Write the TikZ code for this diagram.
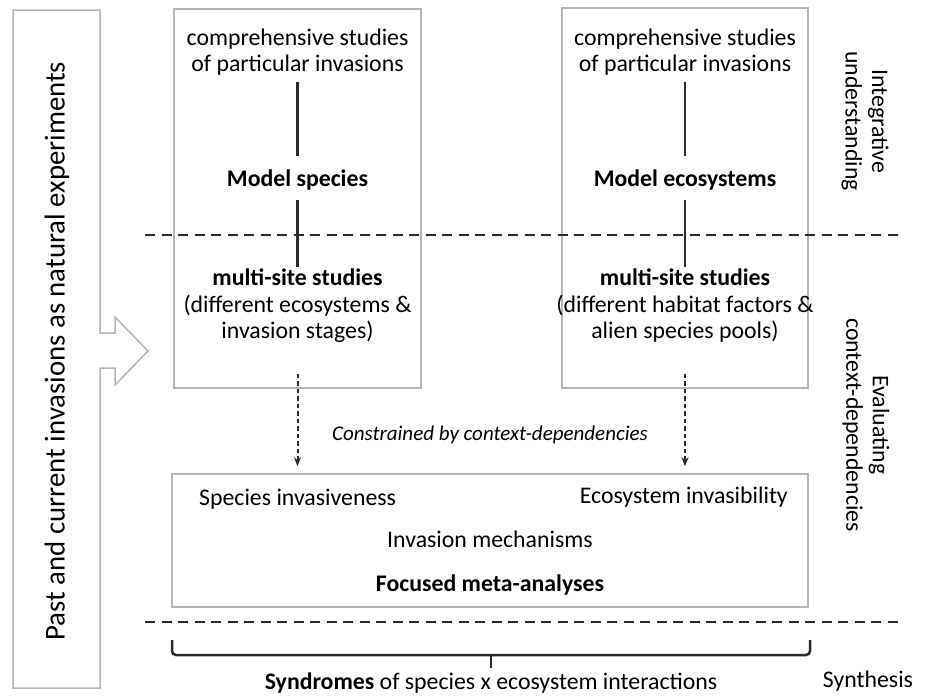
\documentclass[tikz,border=0pt]{standalone}
\usepackage{fontspec}
\setmainfont{Carlito}
\usetikzlibrary{arrows.meta, positioning}
\definecolor{BoxGray}{HTML}{B5B5B5}
\definecolor{InkDark}{HTML}{2A2A2A}

\begin{document}
\begin{tikzpicture}[x=1pt, y=-1pt, >=Stealth,
        box/.style={rectangle, draw=BoxGray, line width=1.5pt, inner sep=0pt},
        txt/.style={align=center, inner sep=0pt, font=\fontsize{23.8}{26.5}\selectfont},
        link/.style={InkDark, line width=2.5pt},
        cut/.style={InkDark, line width=2pt, dash pattern=on 10pt off 6.5pt},
        flow/.style={->, InkDark, line width=2pt, dash pattern=on 4.5pt off 3pt, >={Stealth[length=9pt, width=7pt]}}]

        \useasboundingbox (0,0) rectangle (928,696);

        % side arrow
        \draw[draw=BoxGray, line width=1.5pt, line join=miter]
            (13,10) -- (100,10) -- (100,333) -- (115,333) -- (115,317) -- (148,351)
            -- (115,385) -- (115,368) -- (100,368) -- (100,688) -- (13,688) -- cycle;
        \node[txt, rotate=90, font=\fontsize{28.8}{32}\selectfont] (natexp) at (57,351) {Past and current invasions as natural experiments};

        % boxes
        \node[box, minimum width=247pt, minimum height=379pt] (spbox) at (297.5,198.5) {};
        \node[box, minimum width=246pt, minimum height=380pt] (ecobox) at (685,198) {};
        \node[box, minimum width=636pt, minimum height=133pt] (metabox) at (490,540.5) {};

        % left column
        \node[txt] (compsp) at (297.5,52) {comprehensive studies\\of particular invasions};
        \node[txt, font=\fontsize{23.8}{26.5}\selectfont\bfseries] (modsp) at (297.5,180) {Model species};
        \node[txt] (multisp) at (297.5,306) {\textbf{multi-site studies}\\(different ecosystems \&\\invasion stages)};

        % right column
        \node[txt] (compeco) at (685,52) {comprehensive studies\\of particular invasions};
        \node[txt, font=\fontsize{23.8}{26.5}\selectfont\bfseries] (modeco) at (685,180) {Model ecosystems};
        \node[txt] (multieco) at (685,306) {\textbf{multi-site studies}\\(different habitat factors \&\\alien species pools)};

        % meta-analyses
        \node[txt, anchor=west] (inv) at (199,499) {Species invasiveness};
        \node[txt, anchor=east] (invb) at (788,497) {Ecosystem invasibility};
        \node[txt] (mech) at (490,539) {Invasion mechanisms};
        \node[txt, font=\fontsize{23.8}{26.5}\selectfont\bfseries] (focus) at (490,585) {Focused meta-analyses};
        \node[txt, font=\fontsize{21}{24}\selectfont\itshape] (constr) at (490,435) {Constrained by context-dependencies};

        % levels
        \draw[cut] (145,235) -- (902,235);
        \draw[cut] (145,622) -- (902,622);
        \node[txt, rotate=-90] (integ) at (865,121) {Integrative\\understanding};
        \node[txt, rotate=-90] (evalc) at (866,425) {Evaluating\\context-dependencies};
        \node[txt] (synth) at (868,681) {Synthesis};

        % links
        \draw[link, shorten <=6pt, shorten >=14pt] (compsp) -- (modsp);
        \draw[link, shorten <=10pt, shorten >=2pt] (modsp) -- (multisp);
        \draw[link, shorten <=6pt, shorten >=14pt] (compeco) -- (modeco);
        \draw[link, shorten <=10pt, shorten >=2pt] (modeco) -- (multieco);
        \draw[flow] ([yshift=15pt]spbox.south) -- ([yshift=7pt]spbox.south |- metabox.north);
        \draw[flow] ([yshift=15pt]ecobox.south) -- ([yshift=7pt]ecobox.south |- metabox.north);

        % brace
        \coordinate (bl) at (172,640);
        \coordinate (br) at (810,640);
        \coordinate (btip) at (491,655);
        \draw[link, rounded corners=4pt] (bl) -- ++(0,15) -| (br);
        \draw[link] (btip) -- ++(0,13);
        \node[txt] (synd) at (491,683) {\textbf{Syndromes} of species x ecosystem interactions};
\end{tikzpicture}
\end{document}
